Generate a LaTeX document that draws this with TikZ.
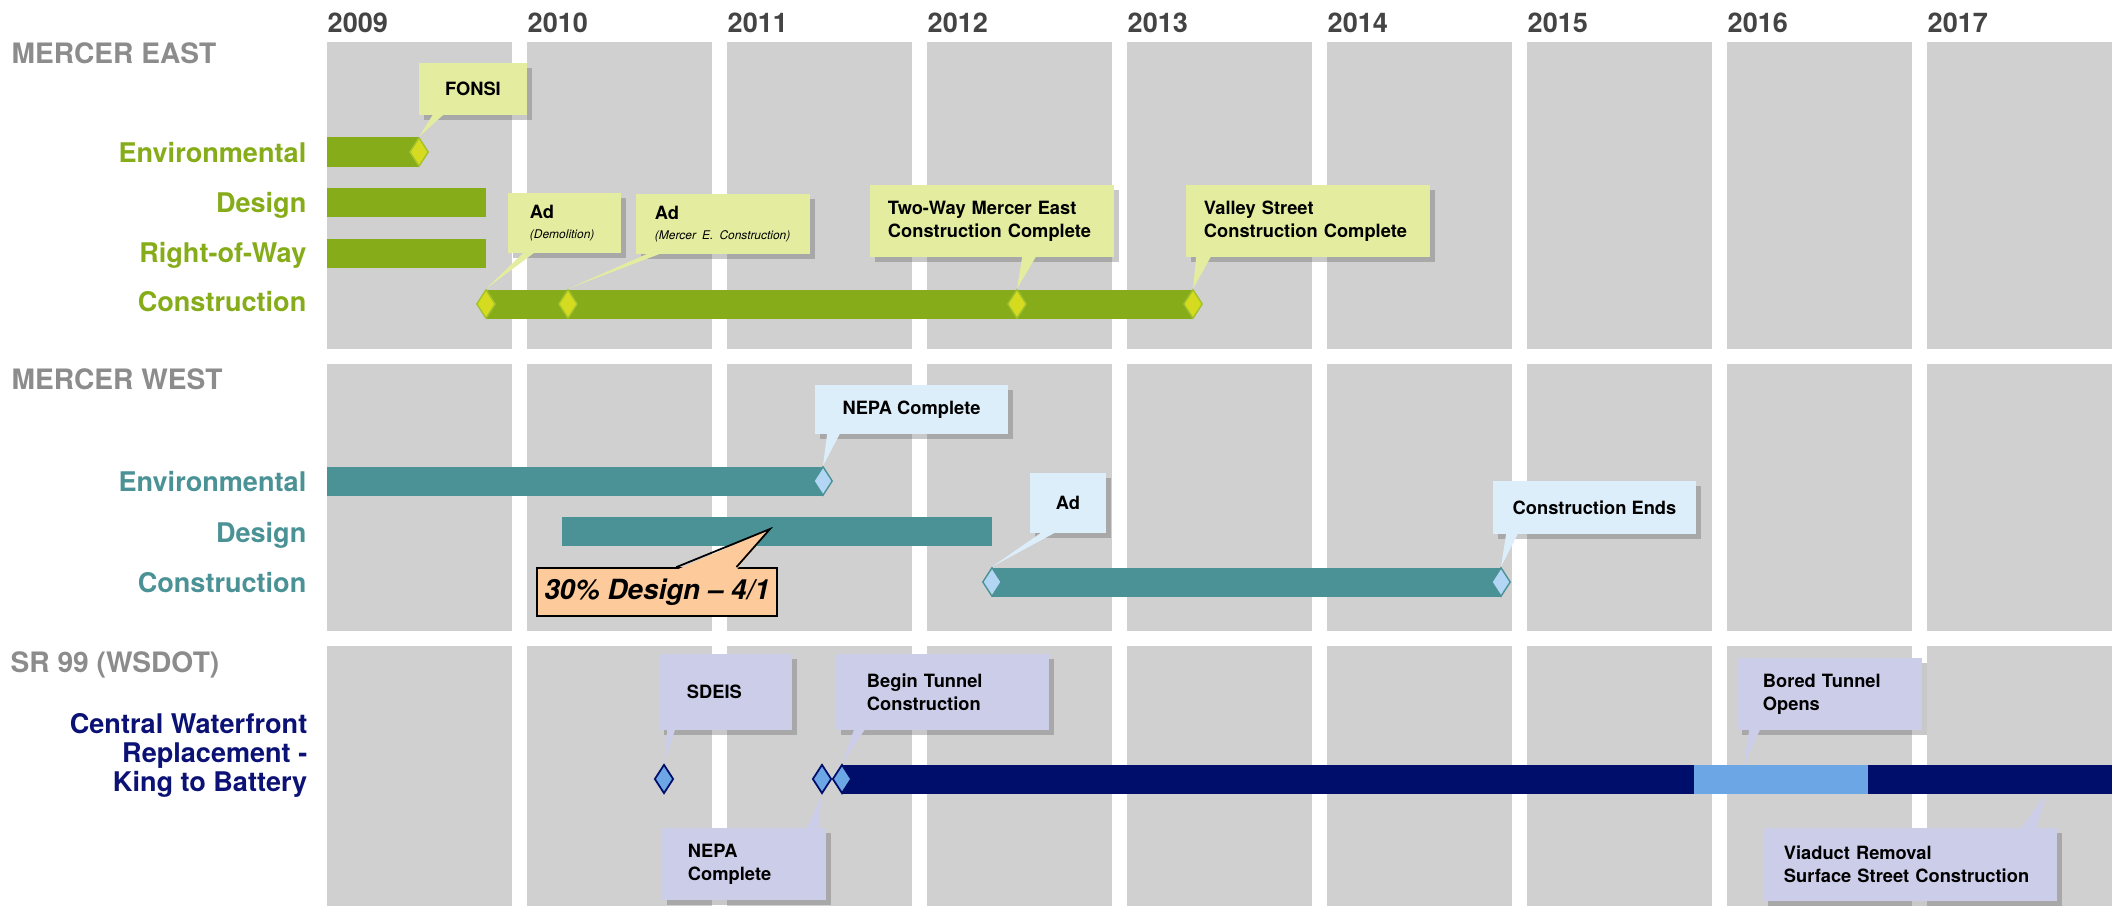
\documentclass[tikz,border=0pt]{standalone}
\usepackage{fontspec}
\setmainfont{TeX Gyre Heros}
\usetikzlibrary{shapes.geometric,shadows}

\definecolor{colgrey}{HTML}{D0D0D0}
\definecolor{yeargrey}{HTML}{444444}
\definecolor{headgrey}{HTML}{8C8C8C}
\definecolor{megreen}{HTML}{86AD19}
\definecolor{media}{HTML}{D5DC1F}
\definecolor{meedge}{HTML}{A3C12D}
\definecolor{mecall}{HTML}{E4ECA0}
\definecolor{mwteal}{HTML}{4A9295}
\definecolor{mwdia}{HTML}{B3D6F5}
\definecolor{mwcall}{HTML}{DDEEFB}
\definecolor{srnavy}{HTML}{000E6B}
\definecolor{srlabel}{HTML}{0C1275}
\definecolor{srlight}{HTML}{6CA6E5}
\definecolor{srcall}{HTML}{CCCDE8}
\definecolor{peach}{HTML}{FDCB9B}

\tikzset{
  yearlbl/.style={anchor=base west, inner sep=0pt, text=yeargrey, font=\fontsize{7.7}{9}\selectfont\bfseries},
  sechead/.style={anchor=base west, inner sep=0pt, text=headgrey, font=\fontsize{8}{9}\selectfont\bfseries},
  rowlbl/.style={anchor=base east, inner sep=0pt, font=\fontsize{7.7}{9}\selectfont\bfseries},
  mstone/.style={diamond, inner sep=0pt, minimum width=0.19cm, minimum height=0.29cm, line width=0.4pt},
  callout/.style={rectangle, inner sep=0pt, font=\fontsize{5.2}{6.5}\selectfont\bfseries,
    execute at begin node={\hyphenpenalty=10000},
    drop shadow={shadow xshift=0.05cm, shadow yshift=-0.05cm, opacity=0.3, fill=black!70}},
}

\begin{document}
\begin{tikzpicture}[x=0.01cm, y=-0.01cm]
\useasboundingbox (0,0) rectangle (2112,906);
\fill[white] (0,0) rectangle (2112,906);

% year columns
\foreach \i/\yr in {0/2009,1/2010,2/2011,3/2012,4/2013,5/2014,6/2015,7/2016,8/2017} {
  \fill[colgrey] (327+200*\i,42) rectangle ++(185,307);
  \fill[colgrey] (327+200*\i,364) rectangle ++(185,267);
  \fill[colgrey] (327+200*\i,646) rectangle ++(185,260);
  \node (y\yr) [yearlbl] at (327+200*\i,32) {\yr};
}

% section headings
\node (hEast) [sechead] at (11,64) {MERCER EAST};
\node (hWest) [sechead] at (11,389) {MERCER WEST};
\node (hSR) [sechead] at (10,672) {SR 99 (WSDOT)};

% Mercer East
\node (meEnv) [rowlbl, text=megreen] at (307,162) {Environmental};
\node (meDes) [rowlbl, text=megreen] at (307,212) {Design};
\node (meRow) [rowlbl, text=megreen] at (307,262) {Right-of-Way};
\node (meCon) [rowlbl, text=megreen] at (307,311) {Construction};
\fill[megreen] (327,137) rectangle (419,167);
\fill[megreen] (327,188) rectangle (486,217);
\fill[megreen] (327,239) rectangle (486,268);
\fill[megreen] (486,290) rectangle (1193,319);
\node (mFonsi) [mstone, fill=media, draw=meedge] at (419,152) {};
\node (mDemo) [mstone, fill=media, draw=meedge] at (486,304) {};
\node (mAdCon) [mstone, fill=media, draw=meedge] at (568,304) {};
\node (mTwoWay) [mstone, fill=media, draw=meedge] at (1017,304) {};
\node (mValley) [mstone, fill=media, draw=meedge] at (1193,304) {};

\node (fonsi) [callout, fill=mecall, minimum width=1.08cm, minimum height=0.52cm] at (473,89) {FONSI};
\node (adDemo) [callout, fill=mecall, minimum width=1.13cm, minimum height=0.60cm, text width=0.69cm, align=left] at (564.5,223)
  {Ad\\[-1pt]{\fontsize{3.4}{4.2}\selectfont\mdseries\itshape (Demolition)}};
\node (adCon) [callout, fill=mecall, minimum width=1.74cm, minimum height=0.60cm, text width=1.36cm, align=left] at (723,224)
  {Ad\\[-1pt]{\fontsize{3.4}{4.2}\selectfont\mdseries\itshape (Mercer E. Construction)}};
\node (twoWay) [callout, fill=mecall, minimum width=2.44cm, minimum height=0.72cm, text width=2.08cm, align=left] at (992,221)
  {Two-Way Mercer East\\Construction Complete};
\node (valley) [callout, fill=mecall, minimum width=2.44cm, minimum height=0.72cm, text width=2.08cm, align=left] at (1308,221)
  {Valley Street\\Construction Complete};
\fill[mecall] ([xshift=.15cm, yshift=.5pt]fonsi.south west) -- ([xshift=.26cm, yshift=.5pt]fonsi.south west) -- (mFonsi.north) -- cycle;
\fill[mecall] ([xshift=.17cm, yshift=.5pt]adDemo.south west) -- ([xshift=.28cm, yshift=.5pt]adDemo.south west) -- (mDemo.north) -- cycle;
\fill[mecall] ([xshift=.14cm, yshift=.5pt]adCon.south west) -- ([xshift=.27cm, yshift=.5pt]adCon.south west) -- (mAdCon.north) -- cycle;
\fill[mecall] ([xshift=1.53cm, yshift=.5pt]twoWay.south west) -- ([xshift=1.67cm, yshift=.5pt]twoWay.south west) -- (mTwoWay.north) -- cycle;
\fill[mecall] ([xshift=.11cm, yshift=.5pt]valley.south west) -- ([xshift=.26cm, yshift=.5pt]valley.south west) -- (mValley.north) -- cycle;

% Mercer West
\node (mwEnv) [rowlbl, text=mwteal] at (307,491) {Environmental};
\node (mwDes) [rowlbl, text=mwteal] at (307,542) {Design};
\node (mwCon) [rowlbl, text=mwteal] at (307,592) {Construction};
\fill[mwteal] (327,467) rectangle (823,496);
\fill[mwteal] (562,517) rectangle (992,546);
\fill[mwteal] (992,568) rectangle (1501,597);
\node (wNepa) [mstone, fill=mwdia, draw=mwteal] at (823,481) {};
\node (wAd) [mstone, fill=mwdia, draw=mwteal] at (992,582) {};
\node (wEnds) [mstone, fill=mwdia, draw=mwteal] at (1501,582) {};

\node (nepaW) [callout, fill=mwcall, minimum width=1.93cm, minimum height=0.49cm] at (911.5,409.5) {NEPA Complete};
\node (adW) [callout, fill=mwcall, minimum width=0.76cm, minimum height=0.60cm] at (1068,503) {Ad};
\node (endsW) [callout, fill=mwcall, minimum width=2.03cm, minimum height=0.53cm] at (1594.5,507.5) {Construction Ends};
\fill[mwcall] ([xshift=.13cm, yshift=.5pt]nepaW.south west) -- ([xshift=.26cm, yshift=.5pt]nepaW.south west) -- (wNepa.north) -- cycle;
\fill[mwcall] ([xshift=.13cm, yshift=.5pt]adW.south west) -- ([xshift=.27cm, yshift=.5pt]adW.south west) -- (wAd.north) -- cycle;
\fill[mwcall] ([xshift=.14cm, yshift=.5pt]endsW.south west) -- ([xshift=.26cm, yshift=.5pt]endsW.south west) -- (wEnds.north) -- cycle;

\coordinate (tip30) at (770,529);
\node (design30) [rectangle, draw=black, line width=0.5pt, fill=peach, inner sep=0pt, minimum width=2.395cm, minimum height=0.48cm,
  font=\fontsize{7.9}{9}\selectfont\bfseries\itshape] at (657,592) {30\% Design -- 4/1};
\fill[peach] ([xshift=1.40cm, yshift=-.8pt]design30.north west) -- (tip30) -- ([xshift=2.00cm, yshift=-.8pt]design30.north west) -- cycle;
\draw[line width=0.5pt] ([xshift=1.40cm]design30.north west) -- (tip30) -- ([xshift=2.00cm]design30.north west);

% SR 99
\node (srLbl) [anchor=east, inner sep=0pt, align=right, text=srlabel, font=\fontsize{7.7}{8.25}\selectfont\bfseries] at (308,755)
  {Central Waterfront\\Replacement -\\King to Battery};
\fill[srnavy] (842,765) rectangle (1694,794);
\fill[srlight] (1694,765) rectangle (1868,794);
\fill[srnavy] (1868,765) rectangle (2112,794);
\node (sSdeis) [mstone, fill=srlight, draw=srnavy, line width=0.5pt] at (664,779) {};
\node (sNepa) [mstone, fill=srlight, draw=srnavy, line width=0.5pt] at (822,779) {};
\node (sBegin) [mstone, fill=srlight, draw=srnavy, line width=0.5pt] at (842,779) {};
\coordinate (tipBored) at (1744,765);
\coordinate (tipViaduct) at (2046,794);

\node (sdeis) [callout, fill=srcall, minimum width=1.33cm, minimum height=0.76cm, text width=0.77cm, align=left] at (725.5,692) {SDEIS};
\node (beginT) [callout, fill=srcall, minimum width=2.13cm, minimum height=0.76cm, text width=1.51cm, align=left] at (942.5,692)
  {Begin Tunnel\\Construction};
\node (nepaS) [callout, fill=srcall, minimum width=1.64cm, minimum height=0.72cm, text width=1.12cm, align=left] at (744,864)
  {NEPA\\Complete};
\node (bored) [callout, fill=srcall, minimum width=1.85cm, minimum height=0.72cm, text width=1.33cm, align=left] at (1829.5,694)
  {Bored Tunnel\\Opens};
\node (viaduct) [callout, fill=srcall, minimum width=2.94cm, minimum height=0.73cm, text width=2.52cm, align=left] at (1910,864.5)
  {Viaduct Removal\\Surface Street Construction};
\fill[srcall] ([xshift=.09cm, yshift=.5pt]sdeis.south west) -- ([xshift=.17cm, yshift=.5pt]sdeis.south west) -- (sSdeis.north) -- cycle;
\fill[srcall] ([xshift=.19cm, yshift=.5pt]beginT.south west) -- ([xshift=.30cm, yshift=.5pt]beginT.south west) -- (sBegin.north) -- cycle;
\fill[srcall] ([xshift=1.45cm, yshift=-.5pt]nepaS.north west) -- ([xshift=1.57cm, yshift=-.5pt]nepaS.north west) -- (sNepa.south) -- cycle;
\fill[srcall] ([xshift=.13cm, yshift=.5pt]bored.south west) -- ([xshift=.24cm, yshift=.5pt]bored.south west) -- (tipBored) -- cycle;
\fill[srcall] ([xshift=2.58cm, yshift=-.5pt]viaduct.north west) -- ([xshift=2.74cm, yshift=-.5pt]viaduct.north west) -- (tipViaduct) -- cycle;
\end{tikzpicture}
\end{document}
